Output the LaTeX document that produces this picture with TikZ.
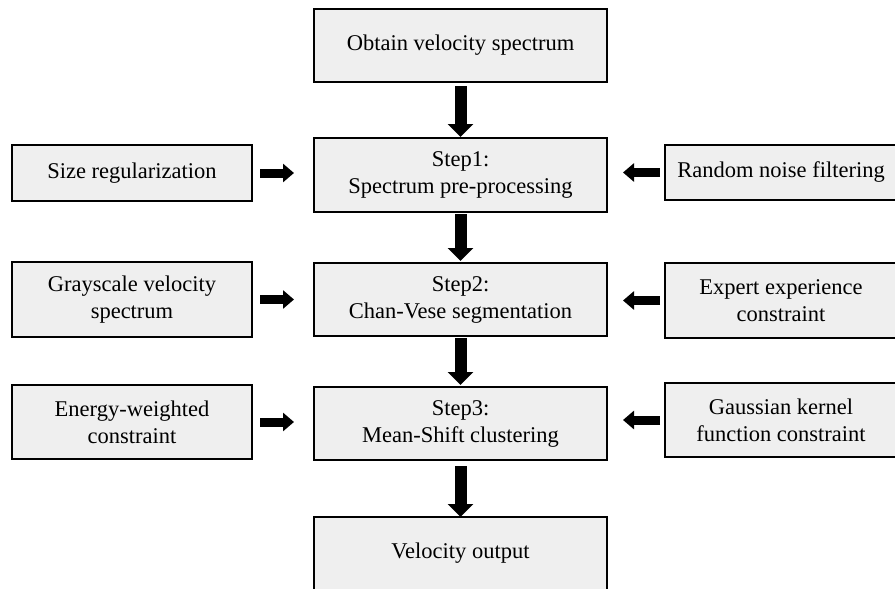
\documentclass[tikz,border=0pt]{standalone}
\usepackage{fontspec}
\setmainfont{Liberation Serif}
\usetikzlibrary{arrows.meta}
\definecolor{boxfill}{RGB}{239,239,239}
\begin{document}
\begin{tikzpicture}[x=1pt,y=-1pt,
  box/.style={draw=black,fill=boxfill,line width=2.8pt,rectangle,outer sep=0pt,inner sep=2pt,
    align=center,font=\fontsize{22.5}{27}\selectfont,text=black},
  mainbox/.style={box,minimum width=293pt,minimum height=73pt},
  sidebox/.style={box,minimum width=240pt},
  rsidebox/.style={box,minimum width=232pt},
  varrow/.style={line width=12pt,line cap=butt,-{Triangle[width=25pt,length=13pt]}},
  harrow/.style={line width=9pt,line cap=butt,-{Triangle[width=18pt,length=11pt]}}]
\useasboundingbox (0,0) rectangle (895,589);
% main column
\node[mainbox] (top) at (460.5,45.5) {Obtain velocity spectrum};
\node[mainbox,minimum height=74pt] (s1) at (460.5,175) {Step1:\\Spectrum pre-processing};
\node[mainbox] (s2) at (460.5,299.5) {Step2:\\Chan-Vese segmentation};
\node[mainbox] (s3) at (460.5,423.5) {Step3:\\Mean-Shift clustering};
\node[mainbox] (out) at (460.5,553.5) {Velocity output};
% left column
\node[sidebox,minimum height=56pt] (l1) at (132,173) {Size regularization};
\node[sidebox,minimum height=75pt] (l2) at (132,299.5) {Grayscale velocity\\spectrum};
\node[sidebox,minimum height=74pt] (l3) at (132,422) {Energy-weighted\\constraint};
% right column
\node[rsidebox,minimum height=55pt] (r1) at (781,172.5) {Random noise filtering};
\node[rsidebox,minimum height=75pt] (r2) at (781,300.5) {Expert experience\\constraint};
\node[rsidebox,minimum height=74pt] (r3) at (781,420) {Gaussian kernel\\function constraint};
% vertical arrows
\draw[varrow] ([yshift=-4pt]top.south) -- ([yshift=1pt]s1.north);
\draw[varrow] ([yshift=-2pt]s1.south) -- ([yshift=2pt]s2.north);
\draw[varrow] ([yshift=-2pt]s2.south) -- ([yshift=2pt]s3.north);
\draw[varrow] ([yshift=-6pt]s3.south) -- ([yshift=0pt]out.north);
% horizontal arrows
\draw[harrow] ([xshift=8pt]l1.east) -- ([xshift=-20pt]l1.east -| s1.west);
\draw[harrow] ([xshift=8pt]l2.east) -- ([xshift=-20pt]l2.east -| s2.west);
\draw[harrow] ([xshift=8pt]l3.east) -- ([xshift=-20pt]l3.east -| s3.west);
\draw[harrow] ([xshift=-5pt]r1.west) -- ([xshift=16pt]r1.west -| s1.east);
\draw[harrow] ([xshift=-5pt]r2.west) -- ([xshift=16pt]r2.west -| s2.east);
\draw[harrow] ([xshift=-5pt]r3.west) -- ([xshift=16pt]r3.west -| s3.east);
\end{tikzpicture}
\end{document}
